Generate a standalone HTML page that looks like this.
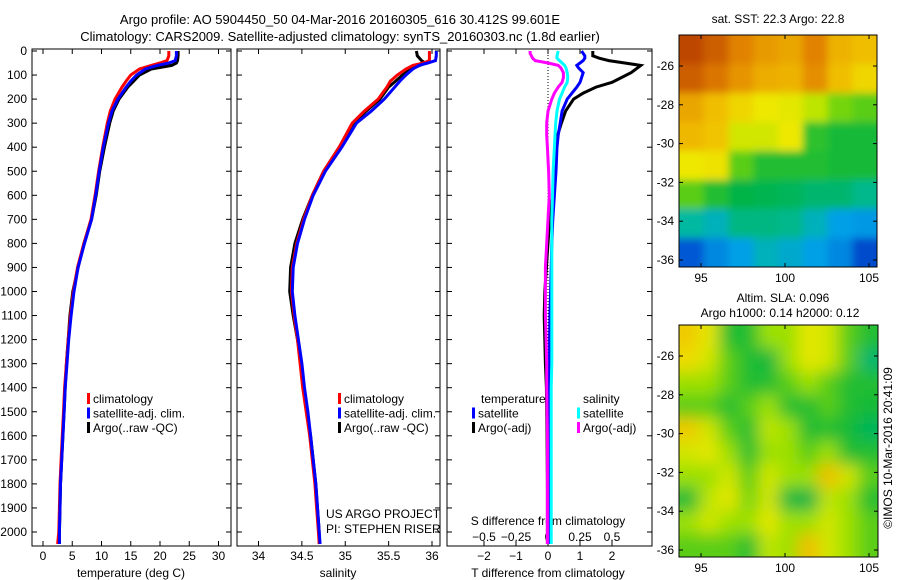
<!DOCTYPE html>
<html><head><meta charset="utf-8">
<style>
html,body{margin:0;padding:0;background:#fff;}
svg{display:block;font-family:"Liberation Sans",sans-serif;}
text{font-size:12px;fill:#000;}
</style></head>
<body>
<svg id="fig" width="900" height="580" viewBox="0 0 900 580" xmlns="http://www.w3.org/2000/svg">
<rect width="900" height="580" fill="#fff"/>
<text x="340" y="24" text-anchor="middle" style="font-size:13px">Argo profile: AO 5904450_50 04-Mar-2016 20160305_616 30.412S 99.601E</text>
<text x="340" y="41" text-anchor="middle" style="font-size:13px">Climatology: CARS2009. Satellite-adjusted climatology: synTS_20160303.nc (1.8d earlier)</text>
<g id="layer"></g>
</svg>
<script>
// ---------- data ----------
const depthLevels = [0,20,40,50,60,75,100,125,150,200,250,300,400,500,600,700,800,900,1000,1100,1200,1300,1400,1500,1600,1700,1800,1900,2000,2050];
const tempClim = [21.5,21.5,21.2,20,18.5,16.5,15,14.2,13.5,12.3,11.5,11,10.2,9.5,8.9,8.2,7,5.9,5.2,4.7,4.3,4,3.7,3.5,3.3,3.1,2.9,2.8,2.7,2.5];
const tempSat = [22.8,22.8,22.6,21.5,19.5,17.5,16,15,14.2,12.8,11.8,11.2,10.3,9.6,9,8.3,7.1,6,5.3,4.8,4.4,4.1,3.8,3.6,3.4,3.2,3,2.9,2.8,2.8];
const tempArgo = [23.1,23.1,23,22.8,22,18.5,16.5,15.5,14.5,13,12,11.4,10.5,9.7,9.1,8.3,7,6,5.1,4.6,4.3,4,3.8,3.6,3.4,3.2,3,2.9,2.8,2.8];
const salClim = [35.97,35.97,35.97,35.9,35.78,35.7,35.6,35.52,35.48,35.38,35.22,35.08,34.93,34.75,34.62,34.52,34.44,34.39,34.38,34.41,34.45,34.48,34.51,34.55,34.59,34.62,34.65,34.67,34.69,34.7];
const salSat = [36.05,36.05,36.04,35.95,35.85,35.78,35.7,35.63,35.57,35.45,35.3,35.13,34.96,34.77,34.63,34.53,34.45,34.4,34.39,34.42,34.46,34.5,34.53,34.57,34.6,34.63,34.66,34.68,34.7,34.71];
const salArgo = [35.82,35.83,35.88,35.92,35.86,35.76,35.66,35.58,35.5,35.4,35.24,35.1,34.93,34.75,34.62,34.51,34.42,34.37,34.36,34.4,34.45,34.49,34.52,34.56,34.6,34.63,34.66,34.68,34.7,34.7];
const diffDepths = [0,10,20,30,40,50,60,70,90,110,130,150,175,200,250,300,350,400,500,600,700,800,900,1000,1100,1200,1300,1400,1600,1800,2000,2050];
const dTempArgo = [1.4,1.4,1.4,1.6,1.9,2.4,2.9,2.8,2.6,2.3,2.0,1.5,1.1,0.8,0.55,0.42,0.3,0.26,0.22,0.15,0.05,0,-0.05,-0.1,-0.12,-0.1,-0.08,-0.05,-0.03,-0.02,-0.02,-0.02];
const dTempSat = [1.05,1.1,1.15,1.15,1.1,1.0,0.9,0.95,1.1,1.05,1.0,0.9,0.75,0.6,0.44,0.38,0.32,0.28,0.25,0.2,0.15,0.12,0.1,0.08,0.06,0.05,0.05,0.04,0.04,0.04,0.04,0.04];
const dSalSat = [0.08,0.075,0.07,0.07,0.09,0.11,0.13,0.14,0.15,0.155,0.15,0.13,0.11,0.09,0.07,0.06,0.055,0.05,0.04,0.035,0.03,0.03,0.03,0.03,0.03,0.03,0.03,0.025,0.025,0.025,0.025,0.025];
const dSalArgo = [-0.14,-0.14,-0.13,-0.12,-0.1,0.0,0.08,0.1,0.12,0.12,0.11,0.08,0.05,0.03,0.0,-0.01,-0.01,-0.005,0.005,0.01,0.0,-0.01,-0.02,-0.02,-0.02,-0.015,-0.01,-0.01,-0.005,-0.005,-0.005,-0.005];
const depthTicks = [0,100,200,300,400,500,600,700,800,900,1000,1100,1200,1300,1400,1500,1600,1700,1800,1900,2000];
const tempTicks = [0,5,10,15,20,25,30];
const salTicks = [34,34.5,35,35.5,36];
const dTempTicks = [-2,-1,0,1,2];
const dSalTicks = [-0.5,-0.25,0,0.25,0.5];
const lonTicks = [95,100,105];
const latTicks = [-26,-28,-30,-32,-34,-36];
const sstGrid = [
 [.9,.86,.8,.76,.74,.8,.72,.7],
 [.86,.82,.77,.73,.72,.78,.7,.66],
 [.74,.7,.66,.63,.62,.58,.52,.5],
 [.71,.69,.6,.6,.63,.46,.44,.44],
 [.63,.64,.5,.45,.45,.45,.44,.44],
 [.5,.45,.42,.41,.4,.38,.38,.35],
 [.33,.3,.36,.36,.35,.3,.25,.24],
 [.16,.22,.25,.3,.28,.25,.22,.14]];
const slaGrid = [
 [.68,.62,.45,.45,.55,.55,.62,.6,.5,.45],
 [.65,.6,.5,.45,.43,.55,.62,.6,.5,.38],
 [.55,.55,.5,.45,.45,.5,.55,.5,.45,.45],
 [.5,.5,.45,.5,.55,.45,.45,.5,.45,.44],
 [.68,.6,.5,.45,.58,.55,.45,.45,.44,.4],
 [.6,.62,.55,.45,.55,.55,.5,.55,.45,.45],
 [.55,.55,.6,.5,.6,.55,.55,.7,.6,.5],
 [.44,.58,.62,.52,.6,.43,.42,.58,.55,.45],
 [.55,.6,.55,.55,.62,.55,.55,.6,.55,.5],
 [.5,.5,.5,.45,.58,.55,.7,.6,.55,.5]];

// ---------- helpers ----------
const NS="http://www.w3.org/2000/svg";
const layer=document.getElementById('layer');
function mk(tag,attrs,parent){const e=document.createElementNS(NS,tag);for(const k in attrs)e.setAttribute(k,attrs[k]);(parent||layer).appendChild(e);return e;}
const Y0=51, PX_PER_M=0.2405, FRAME_TOP=49, FRAME_BOT=546;
const yDepth=d=>Y0+d*PX_PER_M;
const xTemp=v=>43+v*5.85;
const xSal=v=>258.5+(v-34)*86.75;
const xDT=v=>548+v*32;
const xDS=v=>548+v*128;
const panels=[{l:32,r:231,name:'temperature-panel'},{l:237,r:440,name:'salinity-panel'},{l:447,r:652,name:'difference-panel'}];

function drawLine(depths,vals,xf,color,name,w){
  const pts=depths.map((d,i)=>xf(vals[i]).toFixed(1)+','+yDepth(d).toFixed(1)).join(' ');
  const p=mk('polyline',{points:pts,fill:'none',stroke:color,'stroke-width':w||3,'stroke-linejoin':'miter'});
  
  
}
function txt(x,y,s,anchor,name,size){const t=mk('text',{x:x,y:y,'text-anchor':anchor||'start'});if(size)t.style.fontSize=size+'px';t.textContent=s;
  
  
  return t;}

panels.forEach(p=>{
  const r=mk('rect',{x:p.l,y:FRAME_TOP,width:p.r-p.l,height:FRAME_BOT-FRAME_TOP,fill:'none',stroke:'#000','stroke-width':1});
  
  
  depthTicks.forEach(d=>{
    const y=yDepth(d);
    mk('line',{x1:p.l,x2:p.l+5,y1:y,y2:y,stroke:'#000'});
    mk('line',{x1:p.r-5,x2:p.r,y1:y,y2:y,stroke:'#000'});
  });
});
depthTicks.forEach(d=>txt(27,yDepth(d)+4,String(d),'end','depth-tick-label'));

function xticks(ticks,xf,p,lab){ticks.forEach(v=>{const x=xf(v);
  mk('line',{x1:x,x2:x,y1:FRAME_BOT,y2:FRAME_BOT-5,stroke:'#000'});
  mk('line',{x1:x,x2:x,y1:FRAME_TOP,y2:FRAME_TOP+5,stroke:'#000'});
  if(lab)txt(x,560,String(v).replace('-','\u2212'),'middle','x-tick-label');});}
xticks(tempTicks,xTemp,panels[0],true);
xticks(salTicks,xSal,panels[1],true);
xticks(dTempTicks,xDT,panels[2],true);
dSalTicks.forEach(v=>txt(xDS(v),541,String(v).replace('-','\u2212'),'middle','s-diff-tick-label'));

txt(131,577,'temperature (deg C)','middle','temperature-axis-title');
txt(338,577,'salinity','middle','salinity-axis-title');
txt(548,577,'T difference from climatology','middle','t-diff-axis-title');
txt(548,525,'S difference from climatology','middle','s-diff-axis-title');
txt(326,518,'US ARGO PROJECT','start','project-label');
txt(326,533,'PI: STEPHEN RISER','start','pi-label');

const zl=mk('line',{x1:xDT(0),x2:xDT(0),y1:FRAME_TOP,y2:FRAME_BOT,stroke:'#000','stroke-dasharray':'1,2'});



drawLine(depthLevels,tempArgo,xTemp,'#000','temp-argo');
drawLine(depthLevels,tempClim,xTemp,'#f00','temp-climatology');
drawLine(depthLevels,tempSat,xTemp,'#00f','temp-satellite');
drawLine(depthLevels,salArgo,xSal,'#000','sal-argo');
drawLine(depthLevels,salClim,xSal,'#f00','sal-climatology');
drawLine(depthLevels,salSat,xSal,'#00f','sal-satellite');
drawLine(diffDepths,dTempArgo,xDT,'#000','t-diff-argo');
drawLine(diffDepths,dTempSat,xDT,'#00f','t-diff-satellite');
drawLine(diffDepths,dSalArgo,xDS,'#f0f','s-diff-argo');
drawLine(diffDepths,dSalSat,xDS,'#0ff','s-diff-satellite');

function legItem(x,y,color,label,name){
  const r=mk('rect',{x:x,y:y-10,width:3,height:11,fill:color});
  
  
  txt(x+6,y,label,'start',name);
}
[['#f00','climatology'],['#00f','satellite-adj. clim.'],['#000','Argo(..raw -QC)']].forEach((it,i)=>{
  legItem(87,403+i*14.5,it[0],it[1],'legend-temp-'+i);
  legItem(338,403+i*14.5,it[0],it[1],'legend-sal-'+i);
});
txt(481,403,'temperature','start','legend-temperature-heading');
legItem(472,417.5,'#00f','satellite','legend-t-satellite');
legItem(472,432,'#000','Argo(-adj)','legend-t-argo');
txt(583,403,'salinity','start','legend-salinity-heading');
legItem(577,417.5,'#0ff','satellite','legend-s-satellite');
legItem(577,432,'#f0f','Argo(-adj)','legend-s-argo');

// ---------- maps ----------
const stops=[[0,[0,0,120]],[.15,[0,80,210]],[.25,[0,160,230]],[.33,[0,185,160]],[.42,[0,180,70]],[.5,[90,205,20]],[.56,[170,228,0]],[.63,[238,232,0]],[.7,[240,190,0]],[.8,[225,130,0]],[.9,[190,70,0]],[1,[150,30,0]]];
function cmap(v){for(let i=1;i<stops.length;i++){if(v<=stops[i][0]){const a=stops[i-1],b=stops[i],t=(v-a[0])/(b[0]-a[0]);return 'rgb('+a[1].map((c,k)=>Math.round(c+(b[1][k]-c)*t)).join(',')+')';}}return 'rgb(150,30,0)';}
const defs=mk('defs',{});
const blur=mk('filter',{id:'bl',x:'-10%',y:'-10%',width:'120%',height:'120%'},defs);
mk('feGaussianBlur',{stdDeviation:'8'},blur);
const blur2=mk('filter',{id:'bl2',x:'-10%',y:'-10%',width:'120%',height:'120%'},defs);
mk('feGaussianBlur',{stdDeviation:'4'},blur2);
function drawMap(grid,L,T,R,B,name,filt,latY0){
  const cp=mk('clipPath',{id:'cp'+name},defs);mk('rect',{x:L,y:T,width:R-L,height:B-T},cp);
  const g=mk('g',{'clip-path':'url(#cp'+name+')'});
  
  
  const inner=mk('g',{filter:'url(#'+filt+')'},g);
  const rows=grid.length,cols=grid[0].length,cw=(R-L)/cols,ch=(B-T)/rows;
  grid.forEach((row,i)=>row.forEach((v,j)=>{
    let x=L+j*cw,y=T+i*ch,w=cw+0.5,h=ch+0.5;
    if(j===0){x-=15;w+=15;} if(j===cols-1)w+=15;
    if(i===0){y-=15;h+=15;} if(i===rows-1)h+=15;
    const c=mk('rect',{x:x,y:y,width:w,height:h,fill:cmap(v)},inner);
    
    
  }));
  mk('rect',{x:L,y:T,width:R-L,height:B-T,fill:'none',stroke:'#000'});
  const xLon=v=>701+(v-95)*16.8;
  lonTicks.forEach(v=>{const x=xLon(v);mk('line',{x1:x,x2:x,y1:T,y2:T+4,stroke:'#000'});mk('line',{x1:x,x2:x,y1:B,y2:B-4,stroke:'#000'});txt(x,B+15,String(v),'middle','lon-tick-label');});
  const yLat=v=>latY0+(-26-v)*19.4;
  latTicks.forEach(v=>{const y=yLat(v);mk('line',{x1:L,x2:L+4,y1:y,y2:y,stroke:'#000'});mk('line',{x1:R-4,x2:R,y1:y,y2:y,stroke:'#000'});txt(L-5,y+4,String(v),'end','lat-tick-label');});
}
drawMap(sstGrid,679,35,877,267,'sst-map','bl2',66);
drawMap(slaGrid,679,325,878,557,'sla-map','bl',356);
txt(778,23,'sat. SST: 22.3 Argo: 22.8','middle','sst-map-title');
txt(783,302,'Altim. SLA: 0.096','middle','sla-map-title');
txt(780,317,'Argo h1000: 0.14 h2000: 0.12','middle','argo-height-label');
const st=txt(0,0,'\u00a9IMOS 10-Mar-2016 20:41:09','middle','timestamp-label');
st.setAttribute('transform','translate(892,448) rotate(-90)');
</script>
</body></html>
